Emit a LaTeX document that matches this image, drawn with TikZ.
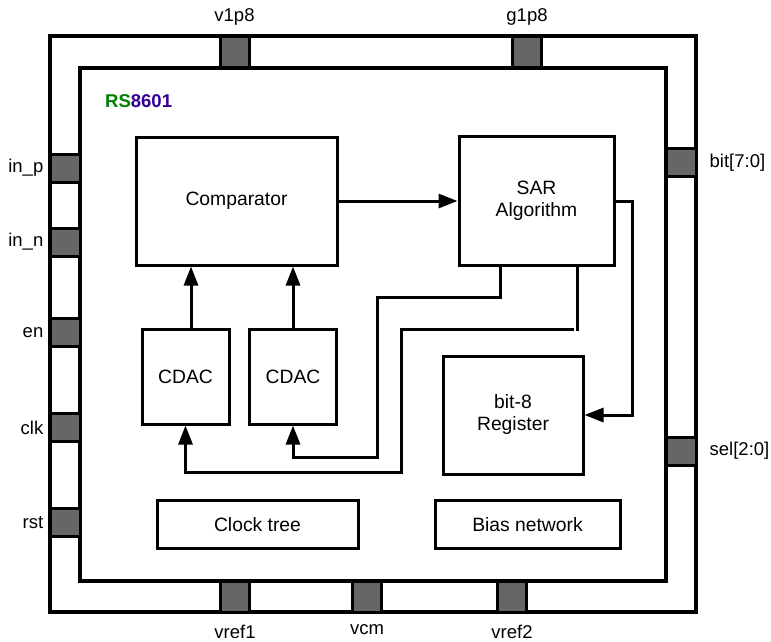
\documentclass[tikz,border=0pt]{standalone}
\usepackage{fontspec}
\setmainfont{Liberation Sans}
\usetikzlibrary{arrows.meta}
\definecolor{padgray}{HTML}{666666}
\definecolor{rsgreen}{HTML}{008000}
\definecolor{rsblue}{HTML}{330099}
\begin{document}
\begin{tikzpicture}[x=1pt,y=-1pt,
  every node/.style={font=\fontsize{18.5}{21}\selectfont},
  frame/.style={draw=black,line width=3.2pt},
  pad/.style={draw=black,fill=padgray,line width=3pt,inner sep=0pt,minimum width=30pt,minimum height=28pt},
  vpad/.style={pad,minimum width=29pt,minimum height=31pt},
  blk/.style={draw=black,line width=3pt,fill=white,align=center,inner sep=2pt,font=\fontsize{19.3}{22}\selectfont},
  lbl/.style={inner sep=0pt},
  arr/.style={line width=3pt,-{Triangle[length=19pt,width=14pt]}},
  wire/.style={line width=3pt}]
\useasboundingbox (0,0) rectangle (771,641);
% frames
\draw[frame] (50,36) rectangle (696,612);
\draw[frame] (80,68) rectangle (666,581);
% pads top
\node[vpad] (pv1) at (234.5,52) {};
\node[vpad] (pg1) at (527,52) {};
% pads left
\node[pad] (pinp) at (65,168) {};
\node[pad] (pinn) at (65,242) {};
\node[pad] (pen) at (65,332.5) {};
\node[pad] (pclk) at (65,427.5) {};
\node[pad] (prst) at (65,522.5) {};
% pads right
\node[pad] (pbit) at (681,162.5) {};
\node[pad] (psel) at (681,451) {};
% pads bottom
\node[vpad] (pvr1) at (235,596.5) {};
\node[vpad] (pvcm) at (367,596.5) {};
\node[vpad] (pvr2) at (512,596.5) {};
% pad labels
\node[lbl,anchor=south] at ([yshift=9pt]pv1.north) {v1p8};
\node[lbl,anchor=south] at ([yshift=9pt]pg1.north) {g1p8};
\node[lbl,anchor=east] at ([xshift=-5pt]pinp.west) {in\_p};
\node[lbl,anchor=east] at ([xshift=-5pt]pinn.west) {in\_n};
\node[lbl,anchor=east] at ([xshift=-5pt]pen.west) {en};
\node[lbl,anchor=east] at ([xshift=-5pt]pclk.west) {clk};
\node[lbl,anchor=east] at ([xshift=-5pt]prst.west) {rst};
\node[lbl,anchor=west] at ([xshift=12pt]pbit.east) {bit[7:0]};
\node[lbl,anchor=west] at ([xshift=12pt]psel.east) {sel[2:0]};
\node[lbl,anchor=north] at ([yshift=-11pt]pvr1.south) {vref1};
\node[lbl,anchor=north] at ([yshift=-11pt]pvcm.south) {vcm};
\node[lbl,anchor=north] at ([yshift=-11pt]pvr2.south) {vref2};
% chip name
\node[lbl,anchor=west,font=\fontsize{18.5}{21}\selectfont\bfseries] (name) at (105,101) {\textcolor{rsgreen}{RS}\textcolor{rsblue}{8601}};
% blocks
\node[blk,minimum width=201pt,minimum height=128pt] (cmp) at (236.5,201) {Comparator};
\node[blk,minimum width=155pt,minimum height=129pt] (sar) at (536.5,201) {SAR\\Algorithm};
\node[blk,minimum width=87pt,minimum height=95pt] (c1) at (185.5,376.5) {CDAC};
\node[blk,minimum width=87pt,minimum height=95pt] (c2) at (293,376.5) {CDAC};
\node[blk,minimum width=140pt,minimum height=118pt] (reg) at (513,415) {bit-8\\Register};
\node[blk,minimum width=201pt,minimum height=48pt] (clk) at (257.5,524.5) {Clock tree};
\node[blk,minimum width=185pt,minimum height=48pt] (bias) at (527.5,524.5) {Bias network};
% connectors
\coordinate (a1) at (191,0);
\coordinate (b1) at (185.5,0);
\coordinate (s1) at (500,0);
\coordinate (s2) at (577,0);
\draw[arr] (cmp.east) -- (sar.west);
\draw[arr] (c1.north -| a1) -- (cmp.south -| a1);
\draw[arr] (c2.north) -- (cmp.south -| c2.north);
\draw[arr] (sar.south -| s1) |- (377,297) |- (293,457) -- (c2.south);
\draw[arr] (sar.south -| s2) -- (577,330.5) (574,329) -- (401,329) |- (185.5,472) -- (c1.south -| b1);
\draw[arr] (sar.east) -| (632,415) -- (reg.east);
\end{tikzpicture}
\end{document}
